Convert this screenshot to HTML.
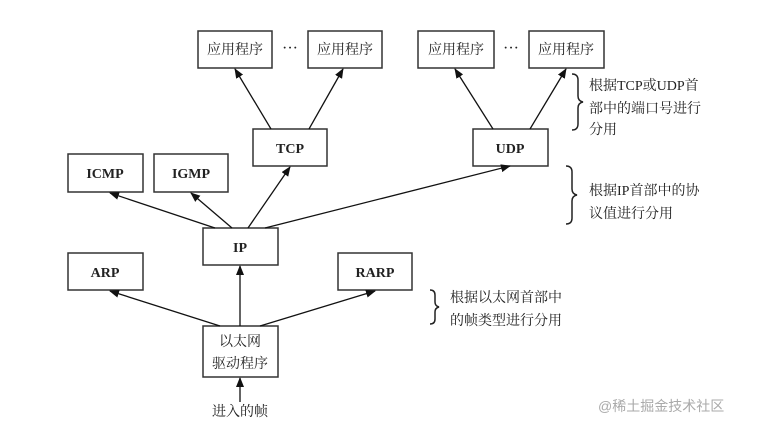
<!DOCTYPE html>
<html><head><meta charset="utf-8"><style>
html,body{margin:0;padding:0;background:#fff;}
svg text{font-family:"Liberation Serif","Noto Serif CJK SC","Noto Sans CJK SC",serif;fill:#222;}
</style></head><body>
<svg width="772" height="428" viewBox="0 0 772 428" xmlns="http://www.w3.org/2000/svg">
<defs><marker id="a" markerWidth="10" markerHeight="8" refX="9" refY="4" orient="auto" markerUnits="userSpaceOnUse"><path d="M0,0 L10,4 L0,8 z" fill="#111"/></marker></defs>
<g fill="#fff" stroke="#333" stroke-width="1.5">
<rect x="198" y="31" width="74" height="37"/><rect x="308" y="31" width="74" height="37"/>
<rect x="418" y="31" width="76" height="37"/><rect x="529" y="31" width="75" height="37"/>
<rect x="253" y="129" width="74" height="37"/><rect x="473" y="129" width="75" height="37"/>
<rect x="68" y="154" width="75" height="38"/><rect x="154" y="154" width="74" height="38"/>
<rect x="203" y="228" width="75" height="37"/>
<rect x="68" y="253" width="75" height="37"/><rect x="338" y="253" width="74" height="37"/>
<rect x="203" y="326" width="75" height="51"/>
</g>
<g stroke="#111" stroke-width="1.3" marker-end="url(#a)">
<line x1="271" y1="129" x2="235" y2="69"/><line x1="309" y1="129" x2="343" y2="69"/>
<line x1="493" y1="129" x2="455" y2="69"/><line x1="530" y1="129" x2="566" y2="69"/>
<line x1="215" y1="228" x2="110" y2="193"/><line x1="232" y1="228" x2="191" y2="193"/>
<line x1="248" y1="228" x2="290" y2="167"/><line x1="265" y1="228" x2="510" y2="166"/>
<line x1="220" y1="326" x2="110" y2="291"/><line x1="240" y1="326" x2="240" y2="266"/>
<line x1="260" y1="326" x2="375" y2="291"/><line x1="240" y1="402" x2="240" y2="378"/>
</g>
<g fill="none" stroke="#222" stroke-width="1.5">
<path d="M572,74 q6,0 6,6 v16 q0,5 5,6 q-5,1 -5,6 v16 q0,6 -6,6"/>
<path d="M566,166 q6,0 6,6 v17 q0,5 5,6 q-5,1 -5,6 v17 q0,6 -6,6"/>
<path d="M430,290 q5,0 5,5 v7 q0,4 4,5 q-4,1 -4,5 v7 q0,5 -5,5"/>
</g>
<g font-size="14" text-anchor="middle">
<text x="235" y="54">应用程序</text><text x="345" y="54">应用程序</text>
<text x="456" y="54">应用程序</text><text x="566" y="54">应用程序</text>
<text x="290" y="53" font-size="16">···</text><text x="511" y="53" font-size="16">···</text>
<text x="290" y="153" font-weight="bold">TCP</text><text x="510" y="153" font-weight="bold">UDP</text>
<text x="105" y="178" font-weight="bold">ICMP</text><text x="191" y="178" font-weight="bold">IGMP</text>
<text x="240" y="252" font-weight="bold">IP</text>
<text x="105" y="277" font-weight="bold">ARP</text><text x="375" y="277" font-weight="bold">RARP</text>
<text x="240" y="346">以太网</text><text x="240" y="368">驱动程序</text>
<text x="240" y="416">进入的帧</text>
</g>
<g font-size="14">
<text x="589" y="90">根据TCP或UDP首</text><text x="589" y="113">部中的端口号进行</text><text x="589" y="134">分用</text>
<text x="589" y="195">根据IP首部中的协</text><text x="589" y="218">议值进行分用</text>
<text x="450" y="302">根据以太网首部中</text><text x="450" y="325">的帧类型进行分用</text>
</g>
<text x="598" y="411" font-size="14" style="fill:#aaa;font-family:'Liberation Sans','Noto Sans CJK SC',sans-serif">@稀土掘金技术社区</text>
</svg>
</body></html>
